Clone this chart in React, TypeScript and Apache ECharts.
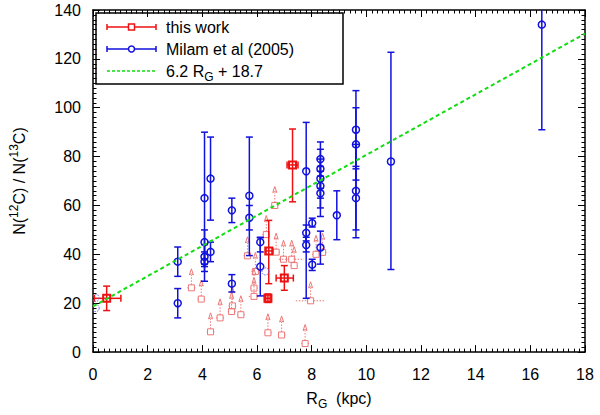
import React, { useEffect, useRef } from 'react';
import * as echarts from 'echarts';

// axis ranges / ticks
const xRange = [0, 18];
const yRange = [0, 140];
const xStep = 2;
const yStep = 20;

// this work: [R_G, ratio, xLow, xHigh, yLow, yHigh]
const thisWork = [
  [0.5, 22, 0.05, 1.02, 17, 27],
  [7.3, 76.6, 7.1, 7.5, 61.5, 91.3],
  [6.43, 41.4, 6.33, 6.58, 28, 53.9],
  [6.4, 22, 6.32, 6.48, 20.3, 23.8],
  [7.0, 30.3, 6.7, 7.33, 25.3, 35.4],
];

// Milam et al (2005): [R_G, ratio, yLow, yHigh]
const milam = [
  [3.1, 37, 31, 43],
  [3.1, 20, 14, 26],
  [4.08, 63, 36, 90],
  [4.08, 45, 29, 50],
  [4.08, 39, 35, 44],
  [4.08, 37, 33, 41],
  [4.3, 71, 54, 88],
  [4.3, 41, 37, 45],
  [5.08, 58, 53, 63],
  [5.08, 28, 24.6, 31.7],
  [5.72, 64, 39.5, 88],
  [5.72, 55, 50, 60],
  [6.12, 45, 41, 47],
  [6.12, 35, 23, 46.8],
  [7.8, 74, 22, 94],
  [7.8, 48.8, 45.5, 52],
  [7.8, 43.8, 41, 47],
  [8.02, 52.8, 51.2, 54.8],
  [8.02, 35.8, 33.4, 38],
  [8.32, 79, 72, 86],
  [8.32, 75, 67, 83],
  [8.32, 71, 63, 79],
  [8.32, 68, 59, 76],
  [8.32, 65, 55.5, 74],
  [8.32, 42.8, 36, 49.5],
  [8.92, 56, 46, 66],
  [9.62, 91, 75, 107],
  [9.62, 85, 70.4, 100],
  [9.62, 66, 46.8, 85],
  [9.62, 63, 50, 76],
  [10.9, 78, 33.8, 122.7],
  [16.42, 134, 91, 177],
];

// Milam points drawn without bars (dotted / edge)
const milamBare = [
  [0.1, 22.2],
  [0.1, 18],
  [6.31, 33],
];

// lower limits: [R_G, ratio, xLow, xHigh]
const lowerLimits = [
  [3.6, 26.3, 3.45, 3.75],
  [3.96, 21.7, 3.82, 4.1],
  [4.3, 8.3, 4.16, 4.44],
  [4.65, 14, 4.5, 4.8],
  [5.1, 18.9, 4.96, 5.24],
  [5.07, 16.6, 4.93, 5.21],
  [5.41, 15.3, 5.27, 5.55],
  [5.89, 26.2, 5.75, 6.03],
  [5.89, 22.8, 5.7, 6.1],
  [5.94, 33, 5.8, 6.08],
  [5.65, 39.4, 5.51, 5.79],
  [6.34, 48.1, 6.2, 6.48],
  [6.65, 60, 6.51, 6.79],
  [6.7, 40.9, 6.56, 6.84],
  [6.97, 38, 6.83, 7.11],
  [7.27, 38, 6.8, 7.72],
  [7.36, 35.4, 7.22, 7.5],
  [6.4, 7.9, 6.26, 6.54],
  [6.9, 7, 6.76, 7.04],
  [7.76, 3.5, 7.62, 7.9],
  [7.96, 21, 7.42, 8.5],
  [8.16, 40, 8.02, 8.3],
  [8.4, 40.8, 8.26, 8.54],
];

// fit line 6.2 R_G + 18.7, end points
const fitLine = [
  [0, 18.7],
  [18, 130.3],
];

const RED = '#ee1111';
const BLUE = '#1111dd';
const PINK = '#ee7777';
const GREEN = '#11dd11';
const FONT = 'Liberation Sans';

const App: React.FC = () => {
  const chartRef = useRef<HTMLDivElement>(null);

  useEffect(() => {
    if (!chartRef.current) return;
    const chart = echarts.init(chartRef.current, undefined, { renderer: 'svg' });

    const axisBase = (show: boolean) => ({
      type: 'value' as const,
      axisLine: { show: true, onZero: false, lineStyle: { color: '#000', width: 1.5 } },
      axisTick: { show: true, inside: true, length: 7, lineStyle: { color: '#000', width: 1 } },
      minorTick: { show: true, splitNumber: 10, length: 3.5, lineStyle: { color: '#000', width: 1 } },
      splitLine: { show: false },
      axisLabel: { show, color: '#000', fontFamily: FONT, fontSize: 16 },
    });

    const subRich = {
      s: { fontSize: 12, fontFamily: FONT, color: '#000', verticalAlign: 'bottom' as const },
      p: { fontSize: 12, fontFamily: FONT, color: '#000', verticalAlign: 'top' as const },
    };

    const option: any = {
      animation: false,
      backgroundColor: '#fff',
      grid: { left: 86, right: 15, top: 10, bottom: 57 },
      xAxis: [
        {
          ...axisBase(true),
          min: xRange[0],
          max: xRange[1],
          interval: xStep,
          position: 'bottom',
          axisLabel: { show: true, color: '#000', fontFamily: FONT, fontSize: 16, margin: 14 },
          name: 'R{s|G}  (kpc)',
          nameLocation: 'middle',
          nameGap: 34,
          nameTextStyle: { color: '#000', fontFamily: FONT, fontSize: 16, lineHeight: 23, rich: subRich },
        },
        { ...axisBase(false), min: xRange[0], max: xRange[1], interval: xStep, position: 'top' },
      ],
      yAxis: [
        {
          ...axisBase(true),
          min: yRange[0],
          max: yRange[1],
          interval: yStep,
          position: 'left',
          axisLabel: { show: true, color: '#000', fontFamily: FONT, fontSize: 16, margin: 12 },
          name: 'N({p|12}C) / N({p|13}C)',
          nameLocation: 'middle',
          nameRotate: 90,
          nameGap: 62,
          nameTextStyle: { color: '#000', fontFamily: FONT, fontSize: 16, lineHeight: 23, rich: subRich },
        },
        { ...axisBase(false), min: yRange[0], max: yRange[1], interval: yStep, position: 'right' },
      ],
      series: [
        {
          name: 'limits',
          type: 'custom',
          clip: true,
          data: lowerLimits,
          renderItem: (params: any, api: any) => {
            const c = api.coord([api.value(0), api.value(1)]);
            const l = api.coord([api.value(2), api.value(1)]);
            const r = api.coord([api.value(3), api.value(1)]);
            const dot = { stroke: PINK, lineWidth: 1, lineDash: [1.5, 1.5], fill: 'none' };
            const s = 3;
            return {
              type: 'group',
              children: [
                { type: 'line', shape: { x1: l[0], y1: c[1], x2: c[0] - s, y2: c[1] }, style: dot },
                { type: 'line', shape: { x1: c[0] + s, y1: c[1], x2: r[0], y2: c[1] }, style: dot },
                { type: 'line', shape: { x1: c[0], y1: c[1] - s, x2: c[0], y2: c[1] - 13 }, style: dot },
                {
                  type: 'polygon',
                  shape: { points: [[c[0], c[1] - 19], [c[0] - 2, c[1] - 13], [c[0], c[1] - 14], [c[0] + 2, c[1] - 13]] },
                  style: { stroke: PINK, lineWidth: 1, fill: 'none' },
                },
                { type: 'rect', shape: { x: c[0] - s, y: c[1] - s, width: 2 * s, height: 2 * s }, style: { stroke: PINK, lineWidth: 1, fill: 'none' } },
              ],
            };
          },
        },
        {
          name: 'this work',
          type: 'custom',
          clip: true,
          data: thisWork,
          renderItem: (params: any, api: any) => {
            const c = api.coord([api.value(0), api.value(1)]);
            const l = api.coord([api.value(2), api.value(1)]);
            const r = api.coord([api.value(3), api.value(1)]);
            const b = api.coord([api.value(0), api.value(4)]);
            const t = api.coord([api.value(0), api.value(5)]);
            const st = { stroke: RED, lineWidth: 1.5, fill: 'none' };
            const cap = 3.5;
            const s = 3.5;
            return {
              type: 'group',
              children: [
                { type: 'line', shape: { x1: l[0], y1: c[1], x2: r[0], y2: c[1] }, style: st },
                { type: 'line', shape: { x1: l[0], y1: c[1] - cap, x2: l[0], y2: c[1] + cap }, style: st },
                { type: 'line', shape: { x1: r[0], y1: c[1] - cap, x2: r[0], y2: c[1] + cap }, style: st },
                { type: 'line', shape: { x1: c[0], y1: t[1], x2: c[0], y2: b[1] }, style: st },
                { type: 'line', shape: { x1: c[0] - cap, y1: t[1], x2: c[0] + cap, y2: t[1] }, style: st },
                { type: 'line', shape: { x1: c[0] - cap, y1: b[1], x2: c[0] + cap, y2: b[1] }, style: st },
                { type: 'rect', shape: { x: c[0] - s, y: c[1] - s, width: 2 * s, height: 2 * s }, style: { stroke: RED, lineWidth: 2, fill: 'none' } },
              ],
            };
          },
        },
        {
          name: 'Milam et al (2005)',
          type: 'custom',
          clip: true,
          data: milam,
          renderItem: (params: any, api: any) => {
            const c = api.coord([api.value(0), api.value(1)]);
            const b = api.coord([api.value(0), api.value(2)]);
            const t = api.coord([api.value(0), api.value(3)]);
            const st = { stroke: BLUE, lineWidth: 1.5, fill: 'none' };
            const cap = 3.5;
            return {
              type: 'group',
              children: [
                { type: 'line', shape: { x1: c[0], y1: t[1], x2: c[0], y2: b[1] }, style: st },
                { type: 'line', shape: { x1: c[0] - cap, y1: t[1], x2: c[0] + cap, y2: t[1] }, style: st },
                { type: 'line', shape: { x1: c[0] - cap, y1: b[1], x2: c[0] + cap, y2: b[1] }, style: st },
                { type: 'circle', shape: { cx: c[0], cy: c[1], r: 3.5 }, style: { stroke: BLUE, lineWidth: 1.5, fill: 'none' } },
              ],
            };
          },
        },
        {
          name: 'Milam bare',
          type: 'custom',
          clip: true,
          data: milamBare,
          renderItem: (params: any, api: any) => {
            const c = api.coord([api.value(0), api.value(1)]);
            return {
              type: 'circle',
              shape: { cx: c[0], cy: c[1], r: 3.5 },
              style: { stroke: '#6666ee', lineWidth: 1, lineDash: [1.5, 1], fill: 'none' },
            };
          },
        },
        {
          name: 'fit',
          type: 'line',
          data: fitLine,
          symbol: 'none',
          lineStyle: { color: GREEN, width: 2, type: [4, 3] },
          z: 5,
        },
      ],
      graphic: [
        {
          type: 'group',
          z: 100,
          children: [
            { type: 'rect', shape: { x: 96, y: 13, width: 247, height: 71 }, style: { fill: '#fff', stroke: '#000', lineWidth: 1.5 } },
            // this work
            { type: 'line', shape: { x1: 107, y1: 27, x2: 156, y2: 27 }, style: { stroke: RED, lineWidth: 1.5 } },
            { type: 'line', shape: { x1: 107, y1: 24, x2: 107, y2: 30 }, style: { stroke: RED, lineWidth: 1.5 } },
            { type: 'line', shape: { x1: 156, y1: 24, x2: 156, y2: 30 }, style: { stroke: RED, lineWidth: 1.5 } },
            { type: 'rect', shape: { x: 128.5, y: 24, width: 6, height: 6 }, style: { fill: '#fff', stroke: RED, lineWidth: 1.5 } },
            { type: 'text', x: 166, y: 27, style: { text: 'this work', fontFamily: FONT, fontSize: 16, fill: '#000', verticalAlign: 'middle' } },
            // Milam
            { type: 'line', shape: { x1: 107, y1: 49, x2: 156, y2: 49 }, style: { stroke: BLUE, lineWidth: 1.5 } },
            { type: 'line', shape: { x1: 107, y1: 46, x2: 107, y2: 52 }, style: { stroke: BLUE, lineWidth: 1.5 } },
            { type: 'line', shape: { x1: 156, y1: 46, x2: 156, y2: 52 }, style: { stroke: BLUE, lineWidth: 1.5 } },
            { type: 'circle', shape: { cx: 131.5, cy: 49, r: 3 }, style: { fill: '#fff', stroke: BLUE, lineWidth: 1.5 } },
            { type: 'text', x: 166, y: 49, style: { text: 'Milam et al (2005)', fontFamily: FONT, fontSize: 16, fill: '#000', verticalAlign: 'middle' } },
            // fit
            { type: 'line', shape: { x1: 107, y1: 71, x2: 156, y2: 71 }, style: { stroke: GREEN, lineWidth: 1.5, lineDash: [3, 2] } },
            {
              type: 'text',
              x: 166,
              y: 71,
              style: {
                text: '6.2 R{s|G} + 18.7',
                fontFamily: FONT,
                fontSize: 16,
                lineHeight: 23,
                fill: '#000',
                verticalAlign: 'middle',
                rich: { s: { fontSize: 12, fontFamily: FONT, fill: '#000', verticalAlign: 'bottom' } },
              },
            },
          ],
        },
      ],
    };

    chart.setOption(option);
    return () => {
      chart.dispose();
    };
  }, []);

  return <div ref={chartRef} style={{ position: 'fixed', left: 0, top: 0, width: 600, height: 415 }} />;
};

export default App;
